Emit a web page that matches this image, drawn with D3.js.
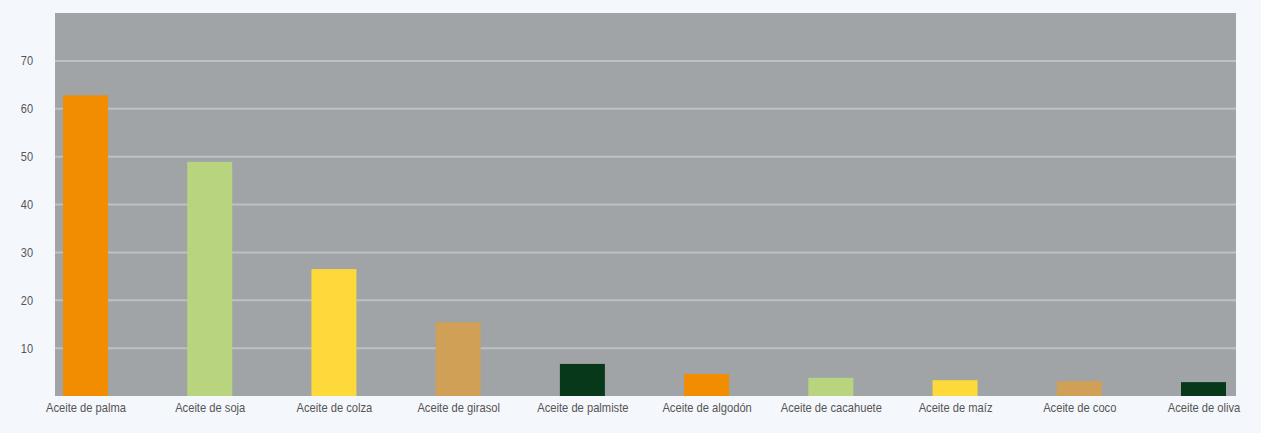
<!DOCTYPE html>
<html><head><meta charset="utf-8">
<script src="https://cdn.jsdelivr.net/npm/d3@7"></script>
<style>
html,body{margin:0;padding:0;background:#f4f7fb;}
svg{display:block;}
</style></head>
<body>
<svg id="c" width="1261" height="433"></svg>
<script>
const categories = ["Aceite de palma","Aceite de soja","Aceite de colza","Aceite de girasol","Aceite de palmiste","Aceite de algodón","Aceite de cacahuete","Aceite de maíz","Aceite de coco","Aceite de oliva"];
const values = [62.8, 48.9, 26.5, 15.4, 6.7, 4.6, 3.8, 3.3, 3.1, 2.9];
const colors = ["#f28c00","#b8d47e","#fdd93a","#cfa055","#073819","#f28c00","#b8d47e","#fdd93a","#cfa055","#073819"];
const yTicks = [10,20,30,40,50,60,70];

const svg = d3.select("#c");
const plot = {left:55, right:1236, top:13, bottom:396};
const y = d3.scaleLinear().domain([0,80]).range([plot.bottom, plot.top]);
const x = d3.scalePoint().domain(categories).range([85.5, 1203.5]);
const barW = 45;

svg.append("rect").attr("x",0).attr("y",0).attr("width",1261).attr("height",433).attr("fill","#f4f7fb");
svg.append("rect").attr("x",plot.left).attr("y",plot.top).attr("width",plot.right-plot.left).attr("height",plot.bottom-plot.top).attr("fill","#a0a4a7");

svg.append("g").selectAll("line").data(yTicks).join("line")
  .attr("x1",plot.left).attr("x2",plot.right)
  .attr("y1",d=>y(d)).attr("y2",d=>y(d))
  .attr("stroke","#bdc1c4").attr("stroke-width",2);

const yAxis = d3.axisLeft(y).tickValues(yTicks).tickSize(0).tickPadding(0);
const gy = svg.append("g").attr("transform","translate(33,0)").call(yAxis);
gy.select(".domain").remove();
gy.selectAll("text").attr("fill","#555").attr("font-size","12.5px").attr("font-family","Liberation Sans, Arial, sans-serif")
  .attr("transform","scale(0.88,1)");

svg.append("g").selectAll("rect").data(values).join("rect")
  .attr("x",(d,i)=>x(categories[i])-barW/2)
  .attr("width",barW)
  .attr("y",d=>y(d))
  .attr("height",d=>y(0)-y(d))
  .attr("fill",(d,i)=>colors[i]);

const xAxis = d3.axisBottom(x).tickSize(0).tickPadding(0);
const gx = svg.append("g").attr("transform","translate(0,403)").call(xAxis);
gx.select(".domain").remove();
gx.selectAll("text").attr("fill","#555").attr("font-size","13px").attr("font-family","Liberation Sans, Arial, sans-serif")
  .attr("transform","scale(0.86,1)");
</script>
</body></html>
